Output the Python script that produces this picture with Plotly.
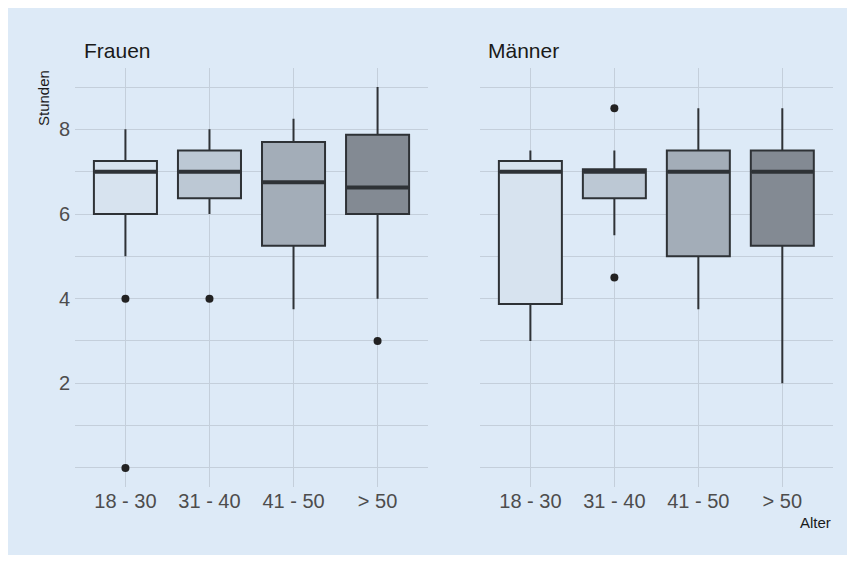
import plotly.graph_objects as go

categories = ["18 - 30", "31 - 40", "41 - 50", "> 50"]
groups = ["Frauen", "Männer"]

# Box statistics per group (order follows categories)
frauen_lower = [5.0, 6.0, 3.75, 4.0]
frauen_q1 = [6.0, 6.375, 5.25, 6.0]
frauen_median = [7.0, 7.0, 6.75, 6.625]
frauen_q3 = [7.25, 7.5, 7.7, 7.875]
frauen_upper = [8.0, 8.0, 8.25, 9.0]
frauen_outliers = [[4.0, 0.0], [4.0], [], [3.0]]

maenner_lower = [3.0, 5.5, 3.75, 2.0]
maenner_q1 = [3.875, 6.375, 5.0, 5.25]
maenner_median = [7.0, 7.0, 7.0, 7.0]
maenner_q3 = [7.25, 7.06, 7.5, 7.5]
maenner_upper = [7.5, 7.5, 8.5, 8.5]
maenner_outliers = [[], [8.5, 4.5], [], []]

fill_colors = ["#d7e3ef", "#bcc8d4", "#a3adb8", "#838a93"]
line_color = "#2e3236"
bg = "#ddeaf7"
grid = "#c4cfdb"

OFF = 8  # page body margin
W, H = 855 - OFF, 563 - 2 * OFF


def px(x):
    return (x - OFF) / W


def py(y):
    return 1 - (y - OFF) / H


fig = go.Figure()

stats = [
    (frauen_lower, frauen_q1, frauen_median, frauen_q3, frauen_upper, frauen_outliers),
    (maenner_lower, maenner_q1, maenner_median, maenner_q3, maenner_upper, maenner_outliers),
]
box_w = 0.75
for gi, (lo, q1, med, q3, up, outs) in enumerate(stats):
    xa = "x" if gi == 0 else "x2"
    ya = "y" if gi == 0 else "y2"
    for i in range(len(categories)):
        fig.add_trace(go.Box(
            x=[i], q1=[q1[i]], median=[med[i]], q3=[q3[i]],
            lowerfence=[lo[i]], upperfence=[up[i]],
            width=box_w, whiskerwidth=0, fillcolor=fill_colors[i],
            line=dict(color=line_color, width=2),
            boxpoints=False, showlegend=False, xaxis=xa, yaxis=ya,
        ))
        fig.add_trace(go.Scatter(
            x=[i - box_w / 2 + 0.01, i + box_w / 2 - 0.01], y=[med[i], med[i]],
            mode="lines", line=dict(color=line_color, width=4),
            showlegend=False, xaxis=xa, yaxis=ya, hoverinfo="skip",
        ))
        if outs[i]:
            fig.add_trace(go.Scatter(
                x=[i] * len(outs[i]), y=outs[i], mode="markers",
                marker=dict(color="#222222", size=8),
                showlegend=False, xaxis=xa, yaxis=ya,
            ))

ydom = [py(487), py(68)]
yvals = list(range(0, 10))
ytext = [str(v) if v in (2, 4, 6, 8) else "" for v in yvals]
FONT = "Liberation Sans, Arial"
xcommon = dict(
    range=[-0.6, 3.6], tickvals=list(range(len(categories))), ticktext=categories,
    showgrid=True, gridcolor=grid, gridwidth=1, zeroline=False, showline=False,
    ticks="", ticklabelstandoff=0,
    tickfont=dict(family=FONT, size=20, color="#4d4d4d"),
)
ycommon = dict(
    range=[-0.45, 9.45], tickvals=yvals, ticktext=ytext, domain=ydom,
    showgrid=True, gridcolor=grid, gridwidth=1, zeroline=False, showline=False,
    ticks="", ticklabelstandoff=4,
    tickfont=dict(family=FONT, size=20, color="#4d4d4d"),
)

fig.update_layout(
    width=W, height=H, margin=dict(l=0, r=0, t=0, b=0),
    paper_bgcolor=bg, plot_bgcolor=bg,
    xaxis=dict(domain=[px(75), px(428)], **xcommon),
    xaxis2=dict(domain=[px(480), px(832.7)], **xcommon),
    yaxis=dict(anchor="x", **ycommon),
    yaxis2=dict(anchor="x2", showticklabels=False, **ycommon),
    annotations=[
        dict(text="Frauen", xref="paper", yref="paper", x=px(82), y=py(51),
             xanchor="left", yanchor="middle", showarrow=False,
             font=dict(family=FONT, size=21, color="#1a1a1a")),
        dict(text="Männer", xref="paper", yref="paper", x=px(486), y=py(51),
             xanchor="left", yanchor="middle", showarrow=False,
             font=dict(family=FONT, size=21, color="#1a1a1a")),
        dict(text="Stunden", xref="paper", yref="paper", x=px(44), y=py(98),
             xanchor="center", yanchor="middle", showarrow=False, textangle=-90,
             font=dict(family=FONT, size=15, color="#1a1a1a")),
        dict(text="Alter", xref="paper", yref="paper", x=px(833), y=py(522),
             xanchor="right", yanchor="middle", showarrow=False,
             font=dict(family=FONT, size=15, color="#1a1a1a")),
    ],
)

fig.write_html("out.html")
